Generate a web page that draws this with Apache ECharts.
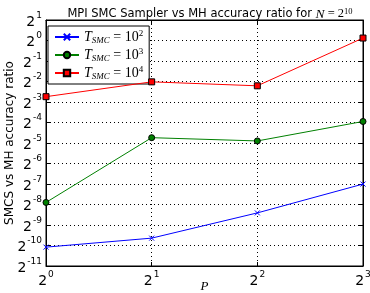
<!DOCTYPE html>
<html>
<head>
<meta charset="utf-8">
<script src="https://cdn.jsdelivr.net/npm/echarts@6/dist/echarts.min.js"></script>
<style>
  html, body { margin: 0; padding: 0; background: #fff; }
  #chart { width: 370px; height: 293px; }
</style>
</head>
<body>
<div id="chart"></div>
<script>
// number of processes P (x axis, log2)
const pValues = [1, 2, 4, 8];
// legend exponents: T_SMC = 10^k
const tsmcExp = ['2', '3', '4'];
// accuracy ratio (y axis, log2)
const ratioT2 = [0.000924, 0.001253, 0.00294, 0.0078];
const ratioT3 = [0.00419, 0.0374, 0.0335, 0.0647];
const ratioT4 = [0.1497, 0.247, 0.216, 1.087];

const colors = ['#0000ff', '#008000', '#ff0000'];
const seriesData = [ratioT2, ratioT3, ratioT4];

const myChart = echarts.init(document.getElementById('chart'));

const pow2Label = function (v) {
    const e = Math.round(Math.log2(v));
    return '{b|2}{s|' + e + '}';
};
const labelRich = {
    b: { fontSize: 14, fontFamily: 'DejaVu Sans', color: '#000', lineHeight: 18, verticalAlign: 'bottom' },
    s: { fontSize: 9, fontFamily: 'DejaVu Sans', color: '#000', lineHeight: 18, verticalAlign: 'top', padding: [0, 0, 0, 1] }
};

const markers = [
    'path://M0,0L10,10M10,0L0,10',
    'circle',
    'rect'
];

myChart.setOption({
    animation: false,
    title: {
        text: 'MPI SMC Sampler vs MH accuracy ratio for {i|N}{n| = 2}{s|10}',
        left: 205,
        textAlign: 'center',
        top: 2,
        textStyle: {
            fontSize: 11.5,
            fontWeight: 'normal',
            fontFamily: 'DejaVu Sans',
            color: '#000',
            rich: {
                i: { fontSize: 13.5, fontStyle: 'italic', fontFamily: 'Liberation Serif', color: '#000' },
                n: { fontSize: 12.5, fontFamily: 'Liberation Serif', color: '#000' },
                s: { fontSize: 8.5, fontFamily: 'Liberation Serif', color: '#000', verticalAlign: 'top', lineHeight: 14 }
            }
        }
    },
    legend: {
        orient: 'vertical',
        left: 48,
        top: 26,
        backgroundColor: '#fff',
        borderColor: '#000',
        borderWidth: 1,
        padding: [3, 6, 3, 6],
        itemGap: 2,
        itemWidth: 24,
        itemHeight: 8,
        data: tsmcExp.map(function (k) { return 'T' + k; }),
        formatter: function (name) {
            return '{t|T}{sub|SMC}{eq| = 10}{sup|' + name.slice(1) + '}';
        },
        textStyle: {
            rich: {
                t: { fontSize: 14, fontStyle: 'italic', fontFamily: 'Liberation Serif', color: '#000', lineHeight: 16 },
                sub: { fontSize: 9, fontStyle: 'italic', fontFamily: 'Liberation Serif', color: '#000', verticalAlign: 'bottom', lineHeight: 16 },
                eq: { fontSize: 14, fontFamily: 'Liberation Serif', color: '#000', lineHeight: 16 },
                sup: { fontSize: 9, fontFamily: 'Liberation Serif', color: '#000', verticalAlign: 'top', lineHeight: 16 }
            }
        }
    },
    grid: {
        left: 46,
        right: 7,
        top: 20,
        bottom: 27,
        containLabel: false,
        outerBoundsMode: 'none',
        show: true,
        borderColor: '#000',
        borderWidth: 1
    },
    xAxis: [{
        type: 'log',
        logBase: 2,
        min: 1,
        max: 8,
        interval: 1,
        name: 'P',
        nameLocation: 'middle',
        nameGap: 14,
        nameMoveOverlap: false,
        nameTextStyle: { fontSize: 13, fontStyle: 'italic', fontFamily: 'Liberation Serif', color: '#000', verticalAlign: 'top' },
        axisLine: { lineStyle: { color: '#000' } },
        axisTick: { inside: true, length: 4, lineStyle: { color: '#000' } },
        axisLabel: { formatter: pow2Label, rich: labelRich, margin: 4, hideOverlap: false },
        splitLine: { show: true, lineStyle: { color: '#000', type: [1, 3], width: 1 } }
    }, {
        type: 'log',
        logBase: 2,
        min: 1,
        max: 8,
        interval: 1,
        position: 'top',
        axisLine: { lineStyle: { color: '#000' } },
        axisTick: { inside: true, length: 4, lineStyle: { color: '#000' } },
        axisLabel: { show: false },
        splitLine: { show: false }
    }],
    yAxis: [{
        type: 'log',
        logBase: 2,
        min: Math.pow(2, -11),
        max: 2,
        interval: 1,
        name: 'SMCS vs MH accuracy ratio',
        nameLocation: 'middle',
        nameGap: 30,
        nameMoveOverlap: false,
        nameTextStyle: { fontSize: 12, fontFamily: 'DejaVu Sans', color: '#000' },
        axisLine: { lineStyle: { color: '#000' } },
        axisTick: { inside: true, length: 4, lineStyle: { color: '#000' } },
        axisLabel: { formatter: pow2Label, rich: labelRich, margin: 4, hideOverlap: false },
        splitLine: { show: true, lineStyle: { color: '#000', type: [1, 3], width: 1 } }
    }, {
        type: 'log',
        logBase: 2,
        min: Math.pow(2, -11),
        max: 2,
        interval: 1,
        position: 'right',
        axisLine: { lineStyle: { color: '#000' } },
        axisTick: { inside: true, length: 4, lineStyle: { color: '#000' } },
        axisLabel: { show: false },
        splitLine: { show: false }
    }],
    series: seriesData.map(function (vals, i) {
        return {
            name: 'T' + tsmcExp[i],
            type: 'line',
            xAxisIndex: 0,
            yAxisIndex: 0,
            data: pValues.map(function (p, j) { return [p, vals[j]]; }),
            symbol: markers[i],
            symbolSize: i === 0 ? 5 : 6,
            showAllSymbol: true,
            lineStyle: { color: colors[i], width: 1 },
            itemStyle: {
                color: colors[i],
                borderColor: i === 0 ? colors[i] : '#000',
                borderWidth: 1
            },
            z: 3 + i
        };
    })
});
</script>
</body>
</html>
